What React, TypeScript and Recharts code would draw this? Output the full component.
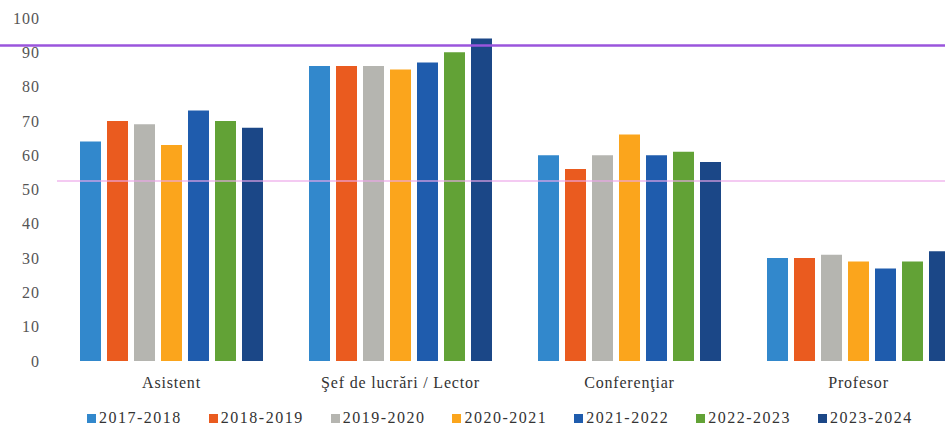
import React from 'react'
import { BarChart, Bar, XAxis, YAxis, ReferenceLine, Legend } from 'recharts'

const categories = ['Asistent', 'Şef de lucrări / Lector', 'Conferenţiar', 'Profesor']
const years = ['2017-2018', '2018-2019', '2019-2020', '2020-2021', '2021-2022', '2022-2023', '2023-2024']

const y2017 = [64, 86, 60, 30]
const y2018 = [70, 86, 56, 30]
const y2019 = [69, 86, 60, 31]
const y2020 = [63, 85, 66, 29]
const y2021 = [73, 87, 60, 27]
const y2022 = [70, 90, 61, 29]
const y2023 = [68, 94, 58, 32]

const yTicks = [0, 10, 20, 30, 40, 50, 60, 70, 80, 90, 100]
const upperLine = 92
const lowerLine = 52.5

const colors = ['#3288cc', '#ea5b1f', '#b5b5b0', '#fba51c', '#1f5cad', '#62a236', '#1b4787']
const seriesValues = [y2017, y2018, y2019, y2020, y2021, y2022, y2023]

const data = categories.map((name, i) => {
  const row: Record<string, string | number> = { name }
  years.forEach((yr, s) => {
    row[yr] = seriesValues[s][i]
  })
  return row
})

const serif = '"Liberation Serif", "DejaVu Serif", serif'

function LegendRow() {
  return (
    <div
      style={{
        display: 'flex',
        justifyContent: 'flex-start',
        paddingLeft: 87,
        paddingTop: 5,
        fontFamily: serif,
        fontSize: 16,
        letterSpacing: '1.5px',
        color: '#333'
      }}
    >
      {years.map((yr, i) => (
        <div key={yr} style={{ display: 'flex', alignItems: 'center', marginRight: 27 }}>
          <span style={{ width: 9, height: 9, background: colors[i], display: 'inline-block', marginRight: 3 }} />
          <span>{yr}</span>
        </div>
      ))}
    </div>
  )
}

export default function App() {
  return (
    <div
      style={{
        position: 'absolute',
        left: 0,
        top: 0,
        width: 945,
        height: 430,
        overflow: 'hidden',
        background: '#fff'
      }}
    >
      <BarChart
        width={980}
        height={430}
        data={data}
        margin={{ top: 18, right: 7, left: 0, bottom: 4 }}
        barCategoryGap={23}
        barGap={6}
      >
        <XAxis
          dataKey="name"
          axisLine={false}
          tickLine={false}
          interval={0}
          tickMargin={10}
          height={43}
          tick={{ fontSize: 16, fill: '#333', fontFamily: serif, letterSpacing: '0.8px' }}
        />
        <YAxis
          domain={[0, 100]}
          ticks={yTicks}
          width={57}
          axisLine={false}
          tickLine={false}
          tickMargin={11}
          tick={{ fontSize: 16, fill: '#555', fontFamily: serif, letterSpacing: '1px' }}
        />
        {years.map((yr, i) => (
          <Bar key={yr} dataKey={yr} fill={colors[i]} barSize={21} isAnimationActive={false} />
        ))}
        <ReferenceLine
          y={lowerLine}
          stroke="#eda6e9"
          strokeWidth={2}
          strokeOpacity={0.6}
        />
        <ReferenceLine
          y={upperLine}
          shape={(p: any) => (
            <line x1={0} y1={p.y1} x2={p.x2} y2={p.y2} stroke="#9a55dc" strokeWidth={2.5} />
          )}
        />
        <Legend verticalAlign="bottom" height={22} content={() => <LegendRow />} />
      </BarChart>
    </div>
  )
}
